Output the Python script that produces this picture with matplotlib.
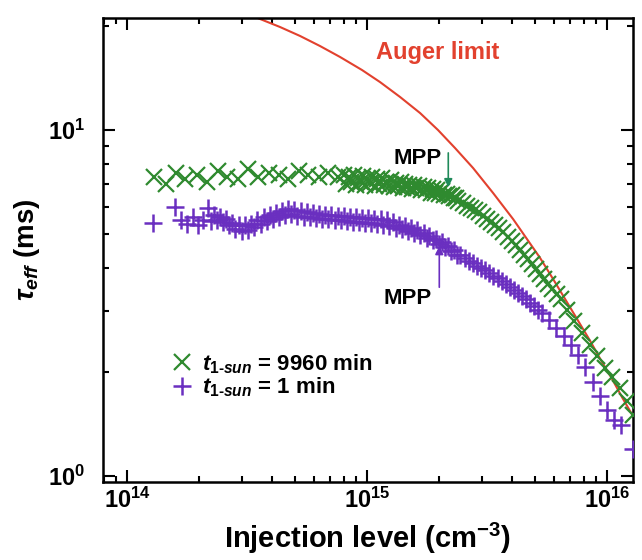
import numpy as np
import matplotlib
matplotlib.use("Agg")
import matplotlib.pyplot as plt
from matplotlib.ticker import LogLocator, FuncFormatter, NullFormatter

# injection level in units of 1e14 cm^-3, lifetime in ms
green_x = [1.30, 1.45, 1.6, 1.75, 1.95, 2.15, 2.4, 2.6, 2.9, 3.2, 3.5, 3.9, 4.3, 4.7, 5.2, 5.7, 6.3, 6.9, 7.6,
           8.0, 8.2, 8.4, 8.6, 8.8, 9.0, 9.2, 9.4, 9.6, 9.8,
           10.0, 10.25, 10.5, 10.75, 11.0, 11.25, 11.5, 11.75, 12.0, 12.3,
           12.6, 12.9, 13.2, 13.5, 13.8, 14.1, 14.4, 14.7, 15.0, 15.35,
           15.7, 16.05, 16.4, 16.8, 17.2, 17.6, 18.0, 18.4, 18.8, 19.2,
           19.6, 20.0, 20.5, 21.0, 21.5, 22.0, 22.5, 23.0, 23.5, 24.0,
           25.0, 26.0, 27.0, 28.1, 29.2, 30.4, 31.6, 32.9, 34.2, 35.6, 37.0, 38.5, 40.0,
           41.6, 43.3, 45.0, 46.8, 48.7, 50.6, 52.6, 54.7, 56.9, 59.2, 61.6, 64.0,
           68, 73, 78.5, 84.5, 91, 98, 105, 113, 121, 128]
green_y = [7.3, 7.0, 7.5, 7.2, 7.4, 7.1, 7.6, 7.3, 7.2, 7.7, 7.3, 7.5, 7.4, 7.2, 7.6, 7.4, 7.3, 7.5, 7.3,
           7.4, 7.0, 7.3, 7.1, 7.4, 6.95, 7.25, 7.1, 7.35, 6.95,
           7.2, 7.05, 7.3, 6.9, 7.2, 7.0, 7.25, 6.95, 7.1, 6.9,
           7.15, 6.85, 7.05, 6.9, 7.1, 6.8, 7.0, 6.85, 6.95, 6.75,
           6.95, 6.8, 6.9, 6.7, 6.85, 6.7, 6.8, 6.6, 6.75, 6.6,
           6.7, 6.55, 6.65, 6.5, 6.55, 6.45, 6.5, 6.35, 6.35, 6.25,
           6.15, 6.05, 5.97, 5.87, 5.78, 5.66, 5.54, 5.42, 5.31, 5.20, 5.07, 4.92, 4.79,
           4.64, 4.50, 4.36, 4.23, 4.09, 3.96, 3.84, 3.71, 3.59, 3.47, 3.35, 3.24,
           3.03, 2.81, 2.59, 2.40, 2.22, 2.06, 1.93, 1.80, 1.65, 1.5]

purple_x = [1.28, 1.58, 1.68, 1.78, 1.88, 1.98, 2.08, 2.17, 2.23,
            2.30, 2.37, 2.44, 2.51, 2.59, 2.67, 2.75, 2.83, 2.92, 3.01,
            3.10, 3.19, 3.29, 3.39, 3.49, 3.60, 3.71, 3.82, 3.93, 4.05,
            4.17, 4.30, 4.43, 4.56, 4.70, 4.84, 4.98, 5.13, 5.29, 5.45,
            5.61, 5.78, 5.95, 6.13, 6.32, 6.51, 6.70, 6.90, 7.11, 7.32,
            7.54, 7.77, 8.00, 8.24, 8.49, 8.74, 9.00, 9.27, 9.55, 9.84,
            10.1, 10.4, 10.7, 11.0, 11.4, 11.7, 12.1, 12.4, 12.8, 13.2,
            13.6, 14.0, 14.4, 14.8, 15.3, 15.7, 16.2, 16.7, 17.2, 17.7,
            18.2, 18.8, 19.3, 19.9, 20.5, 21.1, 21.8, 22.4, 23.1, 23.8, 24.5,
            25.5, 26.5, 27.6, 28.7, 29.9, 31.1, 32.3, 33.6, 35.0, 36.4,
            37.8, 39.3, 40.9, 42.5, 44.2, 46.0, 47.8, 49.7, 51.7, 53.8,
            57.5, 61.5, 66, 70.5, 75.5, 81, 87, 93, 99.5, 106.5, 114, 128]
purple_y = [5.4, 6.0, 5.5, 5.35, 5.6, 5.3, 5.5, 5.95, 5.45,
            5.7, 5.5, 5.62, 5.42, 5.55, 5.3, 5.4, 5.18, 5.3, 5.12,
            5.3, 5.15, 5.36, 5.25, 5.48, 5.35, 5.6, 5.45, 5.7, 5.55,
            5.75, 5.6, 5.84, 5.68, 5.9, 5.72, 5.88, 5.66, 5.82, 5.62,
            5.78, 5.6, 5.75, 5.56, 5.72, 5.54, 5.7, 5.52, 5.68, 5.5,
            5.66, 5.48, 5.64, 5.46, 5.62, 5.44, 5.6, 5.42, 5.58, 5.4,
            5.56, 5.4, 5.55, 5.37, 5.52, 5.33, 5.48, 5.29, 5.41, 5.22,
            5.33, 5.17, 5.27, 5.12, 5.2, 5.04, 5.13, 4.96, 5.05, 4.88,
            4.95, 4.8, 4.85, 4.7, 4.74, 4.6, 4.63, 4.48, 4.51, 4.36, 4.35,
            4.26, 4.19, 4.12, 4.06, 3.99, 3.93, 3.87, 3.80, 3.73, 3.66,
            3.59, 3.52, 3.44, 3.38, 3.31, 3.24, 3.17, 3.10, 3.03, 2.96,
            2.83, 2.68, 2.54, 2.40, 2.24, 2.07, 1.87, 1.70, 1.55, 1.45, 1.41, 1.20]

auger_x = [2.957, 3.415, 4.34, 5.26, 6.37, 7.72, 9.53, 11.33, 13.73, 16.63, 19.76, 23.27, 27.65,
           33.5, 40.6, 46.4, 52.6, 59.6, 68.1, 77.2, 85.0, 94.4, 104.9, 115.5, 128.3, 137.3]
auger_y = [21.93, 21.22, 19.85, 18.70, 17.49, 16.26, 14.91, 13.76, 12.46, 11.20, 10.0, 8.87, 7.77,
           6.58, 5.53, 4.84, 4.27, 3.71, 3.18, 2.75, 2.46, 2.16, 1.91, 1.69, 1.49, 1.38]

legend_labels = [r"$\mathit{t}_{\mathit{1‐sun}}$ = 9960 min", r"$\mathit{t}_{\mathit{1‐sun}}$ = 1 min"]

GREEN = "#2f8a2f"
PURPLE = "#6a2fc0"
RED = "#e2412e"

plt.rcParams.update({
    "font.family": ["Liberation Sans", "DejaVu Sans"],
    "font.weight": "bold",
    "axes.labelweight": "bold",
    "mathtext.fontset": "custom",
    "mathtext.rm": "Liberation Sans:bold",
    "mathtext.bf": "Liberation Sans:bold",
    "mathtext.it": "Liberation Sans:italic:bold",
})

fig = plt.figure(figsize=(6.42, 5.6), dpi=100)
ax = fig.add_axes([0.1604, 0.139, 0.8256, 0.829])

ax.plot(np.array(auger_x) * 1e14, auger_y, color=RED, lw=1.5, zorder=2)
ax.plot(np.array(green_x) * 1e14, green_y, ls="none", marker="x", ms=12, mew=1.6,
        color=GREEN, label=legend_labels[0], zorder=3)
ax.plot(np.array(purple_x) * 1e14, purple_y, ls="none", marker="+", ms=13, mew=1.8,
        color=PURPLE, label=legend_labels[1], zorder=4)

ax.set_xscale("log")
ax.set_yscale("log")
ax.set_xlim(10 ** 13.9, 10 ** 16.108)
ax.set_ylim(10 ** -0.0173, 10 ** 1.324)

fmt = FuncFormatter(lambda v, p: r"$\mathbf{10^{%d}}$" % round(np.log10(v)))
ax.xaxis.set_major_locator(LogLocator(base=10))
ax.yaxis.set_major_locator(LogLocator(base=10))
ax.xaxis.set_minor_locator(LogLocator(base=10, subs=np.arange(2, 10)))
ax.yaxis.set_minor_locator(LogLocator(base=10, subs=np.arange(2, 10)))
ax.xaxis.set_major_formatter(fmt)
ax.yaxis.set_major_formatter(fmt)
ax.xaxis.set_minor_formatter(NullFormatter())
ax.yaxis.set_minor_formatter(NullFormatter())

ax.tick_params(which="both", direction="in", top=True, right=True, width=1.5, labelsize=17)
ax.tick_params(which="major", length=8.5)
ax.tick_params(which="minor", length=4.5)
ax.tick_params(axis="y", pad=13)
ax.tick_params(axis="x", pad=4)
for s in ax.spines.values():
    s.set_linewidth(1.8)

ax.set_xlabel(r"Injection level (cm$^{\mathbf{-3}}$)", fontsize=21, labelpad=6)
ax.set_ylabel(r"$\mathit{\tau}_{\mathit{eff}}$ (ms)", fontsize=20, labelpad=4)

ax.text(1.96e15, 16.7, "Auger limit", color=RED, fontsize=17, ha="center", va="center")

ax.annotate("", xy=(2.18e15, 6.71), xytext=(2.18e15, 8.75),
            arrowprops=dict(arrowstyle="-|>", color="#1f8a5a", lw=1.2, mutation_scale=12))
ax.text(1.62e15, 8.3, "MPP", fontsize=16, ha="center", va="center")
ax.annotate("", xy=(2.0e15, 4.71), xytext=(2.0e15, 3.45),
            arrowprops=dict(arrowstyle="-|>", color=PURPLE, lw=1.2, mutation_scale=12))
ax.text(1.48e15, 3.27, "MPP", fontsize=16, ha="center", va="center")

ax.legend(loc="center left", bbox_to_anchor=(0.128, 0.2295), frameon=False, fontsize=16,
          numpoints=1, handlelength=1.0, handletextpad=0.4, borderpad=0, labelspacing=0.0,
          borderaxespad=0)

fig.savefig("out.png", dpi=100)
